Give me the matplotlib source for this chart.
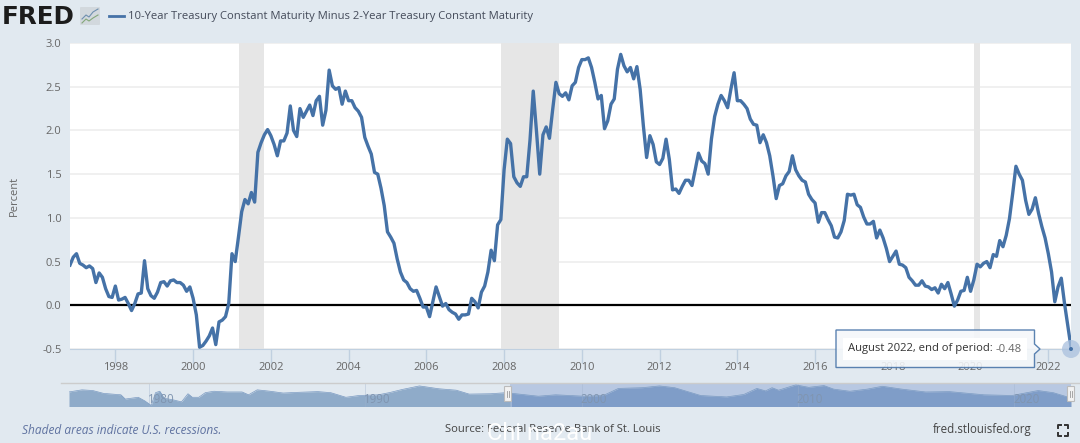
import matplotlib
matplotlib.use("Agg")
import matplotlib.pyplot as plt
from matplotlib.lines import Line2D
from matplotlib.patches import Circle, FancyBboxPatch, Polygon, Rectangle
import numpy as np

W, H = 1080, 443
plt.rcParams["font.family"] = ["Open Sans", "DejaVu Sans"]

# monthly spread, Nov 1996 - Aug 2022
spread_1996_2000 = [.46, .55, .59, .48, .46, .43, .45, .42, .26, .37, .32, .19, .10, .09, .22, .06, .07, .09, .02, -.06,
                    .02, .13, .14, .51, .19, .11, .08, .15, .26, .27, .22, .28, .29, .26, .26, .23, .16, .21, .08, -.11,
                    -.48, -.46, -.41, -.35, -.26, -.45, -.19, -.17, -.13, .02]
spread_2001_2004 = [.59, .50, .78, 1.07, 1.21, 1.16, 1.29, 1.18, 1.75, 1.86, 1.95, 2.01, 1.94, 1.84, 1.71, 1.88, 1.88,
                    1.97, 2.28, 2.0, 1.93, 2.25, 2.15, 2.22, 2.29, 2.17, 2.34, 2.39, 2.06, 2.23, 2.69, 2.51, 2.47, 2.49,
                    2.30, 2.45, 2.34, 2.34, 2.26, 2.22, 2.15, 1.92, 1.82, 1.73, 1.52, 1.50, 1.34, 1.14]
spread_2005_2009 = [.84, .78, .71, .53, .38, .29, .26, .19, .16, .17, .08, -.02, -.02, -.13, .04, .21, .10, -.01, .02,
                    -.05, -.08, -.10, -.16, -.11, -.11, -.10, .08, .04, -.03, .15, .22, .38, .63, .51, .92, .98, 1.55,
                    1.90, 1.85, 1.47, 1.40, 1.36, 1.47, 1.47, 1.89, 2.45, 1.99, 1.50, 1.95, 2.04, 1.91, 2.24, 2.55, 2.42,
                    2.39, 2.43, 2.35, 2.51, 2.55]
spread_2010_2014 = [2.72, 2.81, 2.81, 2.83, 2.72, 2.55, 2.36, 2.40, 2.02, 2.11, 2.30, 2.36, 2.70, 2.87, 2.74, 2.67, 2.72,
                    2.59, 2.73, 2.47, 2.05, 1.69, 1.94, 1.84, 1.64, 1.61, 1.68, 1.90, 1.67, 1.32, 1.33, 1.28, 1.36, 1.43,
                    1.43, 1.37, 1.55, 1.74, 1.65, 1.62, 1.50, 1.90, 2.16, 2.30, 2.40, 2.34, 2.26, 2.47, 2.66, 2.34, 2.34,
                    2.30, 2.25, 2.13, 2.07, 2.06, 1.86, 1.95, 1.86, 1.71, 1.48]
spread_2015_2019 = [1.22, 1.37, 1.39, 1.48, 1.53, 1.71, 1.55, 1.48, 1.43, 1.41, 1.27, 1.21, 1.17, .95, 1.06, 1.06, .98,
                    .91, .78, .77, .84, .97, 1.27, 1.26, 1.27, 1.15, 1.12, 1.01, .93, .93, .96, .77, .86, .77, .65, .50,
                    .56, .62, .47, .46, .43, .32, .28, .23, .23, .28, .22, .21, .18, .20, .14, .24, .19, .26, .13, -.01,
                    .06, .16, .17, .32, .16]
spread_2020_2022 = [.29, .47, .44, .48, .50, .43, .58, .56, .74, .67, .80, .99, 1.28, 1.59, 1.50, 1.43, 1.20, 1.04, 1.10,
                    1.23, 1.05, .90, .77, .59, .38, .04, .21, .31, .02, -.23, -.48]
spread = spread_1996_2000 + spread_2001_2004 + spread_2005_2009 + spread_2010_2014 + spread_2015_2019 + spread_2020_2022
start_year = 1996 + 10 / 12
last_value = spread[-1]

recessions = [(2001.17, 2001.83), (2007.92, 2009.42), (2020.08, 2020.25)]
y_ticks = [-.5, 0, .5, 1, 1.5, 2, 2.5, 3]
x_ticks = list(range(1998, 2023, 2))

# navigator, whole series since 1976
nav_years = [1976.3, 1976.9, 1977.4, 1977.9, 1978.7, 1978.9, 1979.5, 1979.8, 1980.1, 1980.3, 1980.5, 1980.7, 1981.1,
             1981.5, 1981.8, 1982.0, 1982.3, 1982.6, 1983.0, 1983.6, 1984.3, 1984.6, 1985.0, 1985.6, 1986.2, 1986.9,
             1987.8, 1988.4, 1989.1, 1989.7, 1990.6, 1991.1, 1991.7, 1992.5, 1993.4, 1994.2, 1994.8, 1995.8, 1996.5,
             1998.0, 1998.8, 2000.1, 2001.0, 2001.7, 2002.8, 2003.6, 2004.3, 2005.5, 2006.7, 2007.5, 2008.1, 2008.5,
             2008.8, 2009.1, 2009.9, 2010.5, 2011.2, 2011.65, 2012.4, 2013.2, 2013.9, 2014.8, 2015.9, 2017.0, 2018.6,
             2019.9, 2021.1, 2021.8, 2022.62]
nav_values = [.88, 1.36, 1.2, .56, .24, -.72, -.32, -1.12, -2.16, .72, 1.04, -.56, -.88, -1.36, .48, -.32, -.32, .72,
              1.04, .88, .88, .24, 1.36, 1.04, .64, .8, .96, .72, -.32, .08, .24, .72, 1.44, 2.24, 1.6, 1.28, .4, .48,
              .72, -.08, .24, -.08, .08, 1.68, 1.84, 2.24, 1.84, .08, -.24, .32, 1.68, 1.12, 1.84, 1.28, 2.48, 1.92,
              2.32, 1.52, 1.04, 1.52, 2.16, 1.52, .88, .96, .24, .08, 1.2, .72, -.48]
nav_ticks = [1980, 1990, 2000, 2010, 2020]
nav_select_start = 1996.7

BG = "#e1e9f0"
BLUE = "#4572a7"
TEXT = "#666666"


def px_axes(left, top, right, bottom):
    return fig.add_axes([left / W, 1 - bottom / H, (right - left) / W, (bottom - top) / H])


def fig_text(x, y, s, **kw):
    kw.setdefault("va", "center")
    return fig.text(x / W, 1 - y / H, s, **kw)


fig = plt.figure(figsize=(W / 100, H / 100), dpi=100, facecolor=BG)

# main plot
ax = px_axes(70, 43, 1071, 349)
xs = start_year + np.arange(len(spread)) / 12
for a, b in recessions:
    ax.axvspan(a, b, color="#e6e6e6", lw=0, zorder=1.5)
ax.grid(axis="y", color="#eeeeee", lw=1.2, zorder=1)
ax.set_axisbelow(True)
ax.axhline(0, color="black", lw=1.6, zorder=2)
ax.plot(xs, spread, color=BLUE, lw=2.4, solid_joinstyle="round", zorder=3)
ax.set_xlim(start_year, xs[-1])
ax.set_ylim(-.5, 3)
ax.set_yticks(y_ticks)
ax.set_yticklabels([f"{v:.1f}" for v in y_ticks], fontsize=8, color=TEXT)
ax.set_xticks(x_ticks)
ax.set_xticklabels(x_ticks, fontsize=8, color=TEXT)
ax.tick_params(axis="y", length=0, pad=6)
ax.tick_params(axis="x", length=10, width=1, color="#c0d0e0", pad=-1)
for side in ["top", "right", "left"]:
    ax.spines[side].set_visible(False)
ax.spines["bottom"].set_color("#c0d0e0")
fig_text(14, 196, "Percent", rotation=90, ha="center", fontsize=8, color=TEXT)

# tooltip and end marker
overlay = fig.add_axes([0, 0, 1, 1], xlim=(0, W), ylim=(H, 0))
overlay.axis("off")
overlay.set_zorder(5)
end_x, end_y = 1071, 349
overlay.add_patch(Circle((end_x, end_y), 9, color="#a9c0de", alpha=.75, lw=0, clip_on=False))
overlay.add_patch(Circle((end_x, end_y), 2, color=BLUE, lw=0, clip_on=False))
overlay.add_patch(Polygon([(836, 330), (1034.5, 330), (1034.5, 344), (1040, 349), (1034.5, 354), (1034.5, 367.5),
                           (836, 367.5)], closed=True, fc="#f4f7fa", ec=BLUE, lw=1, alpha=.88))
overlay.add_patch(Rectangle((843, 338), 184, 22, fc="white", lw=0))
overlay.text(847.5, 349, "August 2022, end of period:", fontsize=8.15, color="#333333", va="center")
overlay.text(1022, 349, f"{last_value:.2f}", fontsize=8.15, color=TEXT, va="center", ha="right")

# navigator
nav = px_axes(69, 383, 1071, 406.5)
nav.set_xlim(nav_years[0], nav_years[-1])
nav.set_ylim(-2.4, 2.9)
nav.set_facecolor(BG)
nav.axvspan(nav_select_start, nav_years[-1], color="#b8c8e2", lw=0, zorder=1)
nav_x = np.array(nav_years)
nav_y = np.array(nav_values)
grid_x = np.linspace(nav_years[0], nav_years[-1], 1200)
grid_y = np.interp(grid_x, nav_x, nav_y)
before = grid_x <= nav_select_start
nav.fill_between(grid_x[before], -2.4, grid_y[before], color="#8fabc9", lw=0, zorder=2)
nav.fill_between(grid_x[~before], -2.4, grid_y[~before], color="#7f9dc8", lw=0, zorder=2)
nav.plot(nav_x, nav_y, color="#7a9ac2", lw=.5, zorder=3)
for year in nav_ticks:
    nav.axvline(year, color="#9fb2cc", lw=.5, alpha=.5, zorder=2.5)
    nav.annotate(str(year), (year, -.75), xytext=(12, 0), textcoords="offset pixels", fontsize=8.3, color="#8095b0",
                 ha="center", va="center", zorder=4)
nav.set_xticks([])
nav.set_yticks([])
for spine in nav.spines.values():
    spine.set_visible(False)
fig.add_artist(Line2D([61 / W, 1080 / W], [1 - 383 / H] * 2, color="#cccccc", lw=1))
for hx in (508, 1071):
    overlay.add_patch(FancyBboxPatch((hx - 3, 387), 6, 14, boxstyle="round,pad=0.5", fc="#f2f2f2", ec="#bbbbbb", lw=.8))
    overlay.plot([hx - 1, hx - 1], [391, 397], color="#999999", lw=.6)
    overlay.plot([hx + 1, hx + 1], [391, 397], color="#999999", lw=.6)

# header
fig_text(2, 16.5, "FRED", fontsize=17.7, fontweight="bold", family="DejaVu Sans", color="#1c1c1c")
icon_x = [82, 86, 89, 93, 98]
overlay.add_patch(FancyBboxPatch((81, 8), 18, 16, boxstyle="round,pad=1", fc="#d2d8dd", lw=0))
overlay.plot(icon_x, [19, 15, 17, 12, 9], color="#6f8faf", lw=.8)
overlay.plot(icon_x, [23, 19, 21, 18, 15], color="#84a77a", lw=.8)
overlay.plot([109, 124], [16, 16], color=BLUE, lw=2)
fig_text(128.5, 16.5, "10-Year Treasury Constant Maturity Minus 2-Year Treasury Constant Maturity", fontsize=8.15,
         color="#444b5a")

# footer
fig_text(22, 430, "Shaded areas indicate U.S. recessions.", fontsize=8.6, style="italic", color="#5f72a0")
fig_text(445, 430, "Source: Federal Reserve Bank of St. Louis", fontsize=8.1, color="#444444")
fig_text(487, 433, "Chi na2au", fontsize=17, color="white", family="Roboto")
fig_text(933, 430, "fred.stlouisfed.org", fontsize=8.3, color="#444444")
for cx, cy, dx, dy in [(1058, 425, 1, 1), (1068, 425, -1, 1), (1058, 436, 1, -1), (1068, 436, -1, -1)]:
    overlay.plot([cx + 3 * dx, cx, cx], [cy, cy, cy + 3 * dy], color="#333333", lw=1.4)

fig.savefig("out.png", dpi=100, facecolor=BG)
